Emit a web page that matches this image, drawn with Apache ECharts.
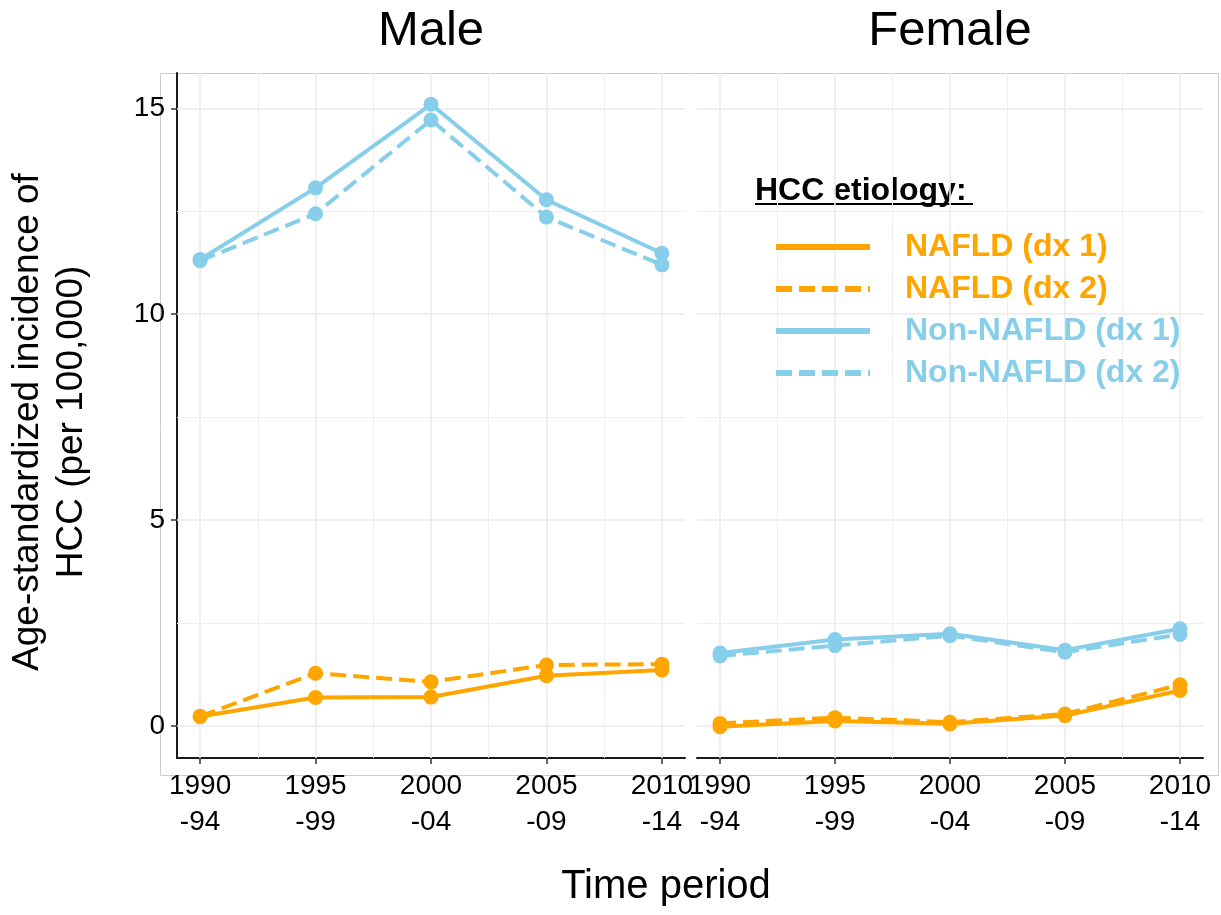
<!DOCTYPE html>
<html><head><meta charset="utf-8">
<script src="https://cdn.jsdelivr.net/npm/echarts@6/dist/echarts.min.js"></script>
<style>html,body{margin:0;padding:0;background:#fff}#c{width:1221px;height:915px}</style>
</head><body><div id="c"></div>
<script>
// ---- data ----
const panelTitles = ['Male', 'Female'];
const periodStarts = [1990, 1995, 2000, 2005, 2010];
const periodLabels = ['1990\n-94', '1995\n-99', '2000\n-04', '2005\n-09', '2010\n-14'];
const seriesNames = ['NAFLD (dx 1)', 'NAFLD (dx 2)', 'Non-NAFLD (dx 1)', 'Non-NAFLD (dx 2)'];
const yTicks = [0, 5, 10, 15];
const yMinorGrid = [2.5, 7.5, 12.5];
const xMinorGrid = [1992.5, 1997.5, 2002.5, 2007.5];

const maleNafldDx1 = [0.23, 0.69, 0.70, 1.22, 1.36];
const maleNafldDx2 = [0.23, 1.28, 1.07, 1.48, 1.50];
const maleNonNafldDx1 = [11.33, 13.07, 15.10, 12.78, 11.48];
const maleNonNafldDx2 = [11.30, 12.44, 14.72, 12.36, 11.20];

const femaleNafldDx1 = [-0.02, 0.12, 0.05, 0.25, 0.86];
const femaleNafldDx2 = [0.06, 0.20, 0.09, 0.29, 1.00];
const femaleNonNafldDx1 = [1.77, 2.10, 2.24, 1.84, 2.36];
const femaleNonNafldDx2 = [1.70, 1.95, 2.19, 1.79, 2.22];

// ---- styling ----
const FONT = 'Liberation Sans, Arial, sans-serif';
const ORANGE = '#FFA500', SKY = '#87CEEB';
const colors = [ORANGE, ORANGE, SKY, SKY];
const dashed = [false, true, false, true];
const panelData = [
  [maleNafldDx1, maleNafldDx2, maleNonNafldDx1, maleNonNafldDx2],
  [femaleNafldDx1, femaleNafldDx2, femaleNonNafldDx1, femaleNonNafldDx2]
];
const Y_MIN = -0.78, Y_MAX = 15.86;
const grids = [
  {left: 177, top: 73, width: 508, height: 685},
  {left: 697, top: 73, width: 506, height: 685}
];

const xAxes = grids.map((g, i) => ({
  type: 'value', gridIndex: i, min: 1989, max: 2011,
  splitLine: {show: false},
  axisLine: {onZero: false, lineStyle: {color: '#1a1a1a', width: 2}},
  axisTick: {customValues: periodStarts, length: 6, lineStyle: {color: '#333', width: 1.5}},
  axisLabel: {customValues: periodStarts, color: '#000', fontSize: 28, lineHeight: 36, margin: 10, fontFamily: FONT,
    formatter: v => { const k = periodStarts.indexOf(v); return k >= 0 ? periodLabels[k] : ''; }}
}));
const yAxes = grids.map((g, i) => ({
  type: 'value', gridIndex: i, min: Y_MIN, max: Y_MAX,
  splitLine: {show: false},
  axisLine: {show: i === 0, onZero: false, lineStyle: {color: '#1a1a1a', width: 2}},
  axisTick: {show: i === 0, customValues: yTicks, length: 6, lineStyle: {color: '#333', width: 1.5}},
  axisLabel: {show: i === 0, customValues: yTicks, color: '#000', fontSize: 28, margin: 12, fontFamily: FONT,
    formatter: v => (yTicks.indexOf(v) >= 0 ? String(v) : '')}
}));

const series = [];
grids.forEach((g, p) => {
  const major = {color: '#ebebeb', width: 1.6, type: 'solid'};
  const minor = {color: '#efefef', width: 1.0, type: 'solid'};
  series.push({
    type: 'line', xAxisIndex: p, yAxisIndex: p, data: [], silent: true, z: 1,
    markLine: {
      silent: true, symbol: 'none', z: 1, animation: false, label: {show: false},
      emphasis: {disabled: true},
      data: [
        ...yTicks.map(v => ({yAxis: v, lineStyle: major})),
        ...yMinorGrid.map(v => ({yAxis: v, lineStyle: minor})),
        ...periodStarts.map(v => ({xAxis: v, lineStyle: major})),
        ...xMinorGrid.map(v => ({xAxis: v, lineStyle: minor}))
      ]
    }
  });
  panelData[p].forEach((arr, s) => {
    series.push({
      name: seriesNames[s], type: 'line', xAxisIndex: p, yAxisIndex: p, z: 3,
      data: periodStarts.map((x, k) => [x, arr[k]]),
      symbol: 'circle', symbolSize: 15, showSymbol: true,
      itemStyle: {color: colors[s]},
      lineStyle: {color: colors[s], width: 4, type: dashed[s] ? [16, 7] : 'solid'},
      emphasis: {disabled: true}
    });
  });
});

const chart = echarts.init(document.getElementById('c'), null, {renderer: 'canvas'});
chart.setOption({
  animation: false,
  backgroundColor: '#fff',
  grid: grids,
  xAxis: xAxes,
  yAxis: yAxes,
  series: series,
  legend: {
    orient: 'vertical', left: 773, top: 231, padding: 0, itemWidth: 94, itemHeight: 20, itemGap: 10,
    selectedMode: false,
    itemStyle: {opacity: 0},
    lineStyle: {width: 6},
    data: seriesNames.map((n, i) => ({name: n, textStyle: {color: colors[i]}})),
    textStyle: {fontSize: 32, fontWeight: 'bold', fontFamily: FONT, padding: [0, 0, 0, 30]}
  },
  graphic: [
    {type: 'rect', z: -10, silent: true, shape: {x: 160.5, y: 73.5, width: 1058, height: 702},
     style: {fill: 'none', stroke: '#cccccc', lineWidth: 1}},
    {type: 'text', x: 431, y: 31, silent: true,
     style: {text: panelTitles[0], font: '49px ' + FONT, fill: '#000', align: 'center', verticalAlign: 'middle'}},
    {type: 'text', x: 950, y: 31, silent: true,
     style: {text: panelTitles[1], font: '49px ' + FONT, fill: '#000', align: 'center', verticalAlign: 'middle'}},
    {type: 'text', x: 666, y: 887, silent: true,
     style: {text: 'Time period', font: '40px ' + FONT, fill: '#000', align: 'center', verticalAlign: 'middle'}},
    {type: 'text', x: 50, y: 422, rotation: Math.PI / 2, silent: true,
     style: {text: 'Age-standardized incidence of\nHCC (per 100,000)', font: '37px ' + FONT, lineHeight: 44,
             fill: '#000', align: 'center', verticalAlign: 'middle'}},
    {type: 'text', x: 755, y: 191, silent: true,
     style: {text: 'HCC etiology:', font: 'bold 32px ' + FONT, fill: '#000', align: 'left', verticalAlign: 'middle'}},
    {type: 'line', silent: true, shape: {x1: 755, y1: 204, x2: 973, y2: 204}, style: {stroke: '#000', lineWidth: 2}}
  ]
});
</script>
</body></html>
